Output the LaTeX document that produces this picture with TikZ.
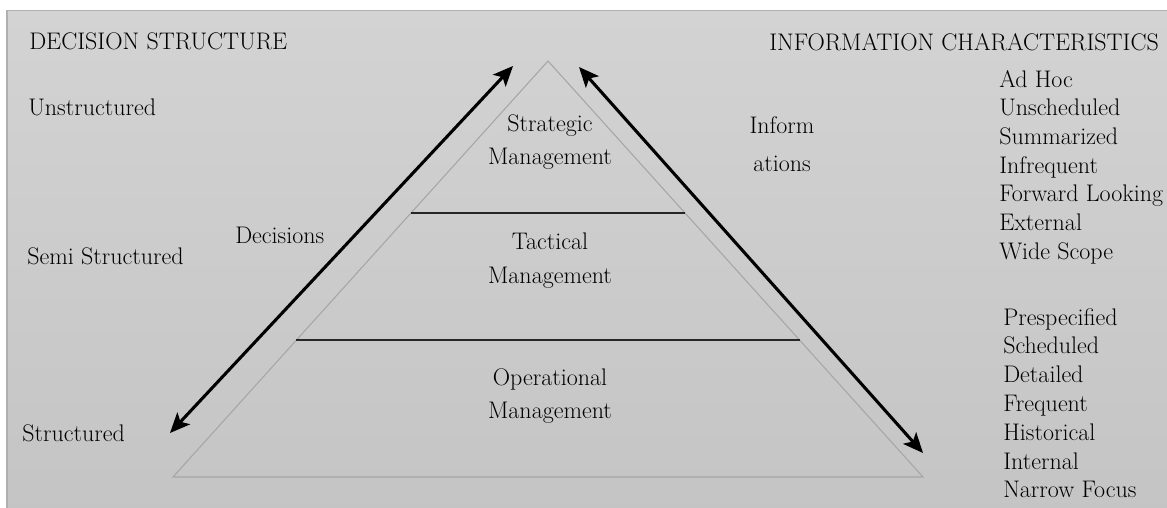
\documentclass[tikz,border=0pt]{standalone}
\usepackage{tikz}
\usepackage{color}
\usetikzlibrary{arrows, arrows.meta, calc}
\definecolor{panelTop}{RGB}{211,211,211}
\definecolor{panelBot}{RGB}{196,196,196}
\definecolor{panelEdge}{RGB}{176,176,176}
\definecolor{pyrEdge}{RGB}{166,166,166}
\tikzstyle{arrow} = [line width=2.3pt,<->,>={Stealth[length=15pt,width=13pt,inset=3.5pt]}]
\tikzstyle{levelline} = [line width=1.2pt, draw=black!85]
\tikzstyle{txt} = [inner sep=0pt, font=\fontsize{18}{21}\selectfont, text=black]
\tikzstyle{lefttxt} = [txt, anchor=base west]
\tikzstyle{midtxt} = [txt, anchor=base]

\begin{document}
\begin{tikzpicture}[x=0.75pt,y=-0.75pt]
\useasboundingbox (0,0) rectangle (1167,507);
\shade[top color=panelTop, bottom color=panelBot] (7,10.5) rectangle (1180,520);
\draw[panelEdge, line width=1pt] (7,520) -- (7,10.5) -- (1180,10.5);
\coordinate (apex) at (548,61);
\coordinate (baseL) at (173,477);
\coordinate (baseR) at (923,477);
\draw[pyrEdge, line width=0.8pt] (apex) -- (baseL) -- (baseR) -- cycle;
\coordinate (cut1L) at ($(apex)!0.365!(baseL)$);
\coordinate (cut1R) at ($(apex)!0.365!(baseR)$);
\coordinate (cut2L) at ($(apex)!0.671!(baseL)$);
\coordinate (cut2R) at ($(apex)!0.671!(baseR)$);
\draw[levelline] (cut1L) -- (cut1R);
\draw[levelline] (cut2L) -- (cut2R);
\coordinate (decHi) at (513,66);
\coordinate (decLo) at (170,433);
\coordinate (infHi) at (579,67);
\coordinate (infLo) at (923,453);
\draw[arrow] (decLo) -- (decHi);
\draw[arrow] (infHi) -- (infLo);
\node[lefttxt] (decHead) at (29,49) {DECISION STRUCTURE};
\node[lefttxt] (infHead) at (769,50) {INFORMATION CHARACTERISTICS};
\node[lefttxt] (unstr) at (28,115) {Unstructured};
\node[lefttxt] (semistr) at (27,264) {Semi Structured};
\node[lefttxt] (str) at (22,441) {Structured};
\node[lefttxt] (decLbl) at (235,243) {Decisions};
\node[midtxt] (infLblA) at (782,133) {Inform};
\node[midtxt] (infLblB) at (782,171) {ations};
\node[midtxt] (stratA) at (550,131) {Strategic};
\node[midtxt] (stratB) at (550,164) {Management};
\node[midtxt] (tactA) at (550,249) {Tactical};
\node[midtxt] (tactB) at (550,283) {Management};
\node[midtxt] (operA) at (550,385) {Operational};
\node[midtxt] (operB) at (550,418) {Management};
\foreach \word [count=\i from 0] in {Ad Hoc, Unscheduled, Summarized, Infrequent, Forward Looking, External, Wide Scope}
  \node[lefttxt] (hi\i) at (999,87+28.67*\i) {\word};
\foreach \word [count=\i from 0] in {Prespecified, Scheduled, Detailed, Frequent, Historical, Internal, Narrow Focus}
  \node[lefttxt] (lo\i) at (1003,325+28.83*\i) {\word};
\end{tikzpicture}
\end{document}
